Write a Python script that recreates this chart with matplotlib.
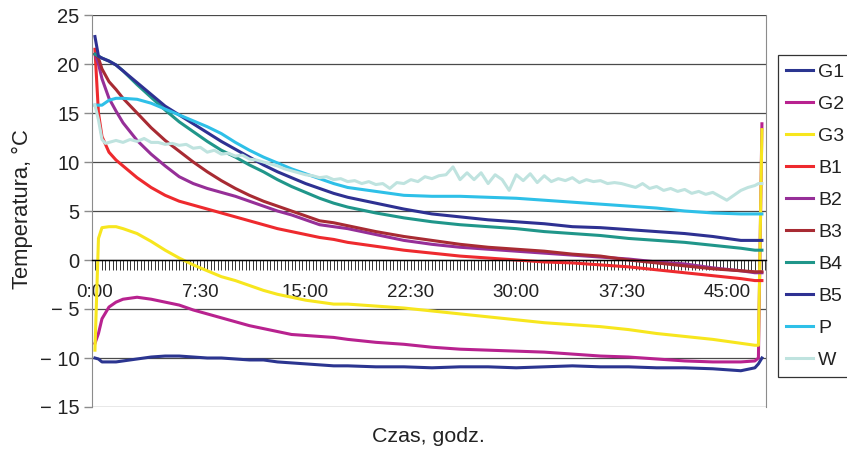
import matplotlib
matplotlib.use("Agg")
import matplotlib.pyplot as plt
from matplotlib.ticker import MultipleLocator, FuncFormatter

plt.rcParams["font.family"] = ["Liberation Sans", "DejaVu Sans"]

# czas pomiaru w godzinach
czas = [0, 0.25, 0.5, 1, 1.5, 2, 3, 4, 5, 6, 7, 8, 9, 10, 11, 12, 13, 14,
        15, 16, 17, 18, 20, 22, 24, 26, 28, 30, 32, 34, 36, 38, 40, 42, 44,
        46, 47, 47.25, 47.5]

G1 = [-10.0, -10.1, -10.4, -10.4, -10.4, -10.3, -10.1, -9.9, -9.8, -9.8,
      -9.9, -10.0, -10.0, -10.1, -10.2, -10.2, -10.4, -10.5, -10.6, -10.7,
      -10.8, -10.8, -10.9, -10.9, -11.0, -10.9, -10.9, -11.0, -10.9, -10.8,
      -10.9, -10.9, -11.0, -11.0, -11.1, -11.3, -11.0, -10.6, -10.0]
G2 = [-8.5, -7.5, -6.0, -4.8, -4.3, -4.0, -3.8, -4.0, -4.3, -4.6, -5.1,
      -5.5, -5.9, -6.3, -6.7, -7.0, -7.3, -7.6, -7.7, -7.8, -7.9, -8.1,
      -8.4, -8.6, -8.9, -9.1, -9.2, -9.3, -9.4, -9.6, -9.8, -9.9, -10.1,
      -10.3, -10.4, -10.4, -10.3, -10.0, 13.9]
G3 = [-9.2, 2.2, 3.3, 3.4, 3.4, 3.2, 2.7, 1.9, 1.0, 0.2, -0.5, -1.1, -1.7,
      -2.1, -2.6, -3.1, -3.5, -3.8, -4.1, -4.3, -4.5, -4.5, -4.7, -4.9,
      -5.2, -5.5, -5.8, -6.1, -6.4, -6.6, -6.8, -7.1, -7.5, -7.8, -8.1,
      -8.5, -8.7, -8.7, 13.3]
B1 = [21.5, 15.0, 12.6, 11.0, 10.2, 9.6, 8.4, 7.4, 6.6, 6.0, 5.6, 5.2, 4.8,
      4.4, 4.0, 3.6, 3.2, 2.9, 2.6, 2.3, 2.1, 1.8, 1.4, 1.0, 0.7, 0.4, 0.2,
      0.0, -0.2, -0.3, -0.5, -0.7, -1.0, -1.3, -1.6, -1.9, -2.1, -2.1, -2.1]
B2 = [21.0, 20.0, 18.5, 16.5, 15.2, 14.0, 12.2, 10.8, 9.6, 8.5, 7.8, 7.3,
      6.9, 6.5, 6.0, 5.5, 5.0, 4.6, 4.1, 3.6, 3.4, 3.2, 2.6, 2.0, 1.6, 1.3,
      1.1, 0.9, 0.7, 0.5, 0.3, 0.1, -0.2, -0.4, -0.8, -1.1, -1.3, -1.3, -1.3]
B3 = [21.0, 20.6, 19.5, 18.2, 17.4, 16.5, 15.0, 13.5, 12.2, 11.1, 10.0, 9.0,
      8.1, 7.3, 6.6, 6.0, 5.5, 5.0, 4.5, 4.0, 3.8, 3.5, 2.9, 2.4, 2.0, 1.6,
      1.3, 1.1, 0.9, 0.6, 0.4, 0.0, -0.3, -0.6, -0.9, -1.1, -1.2, -1.2, -1.2]
B4 = [21.0, 20.8, 20.6, 20.3, 19.9, 19.3, 17.9, 16.6, 15.3, 14.1, 13.1,
      12.1, 11.2, 10.5, 9.7, 9.0, 8.2, 7.5, 6.9, 6.3, 5.8, 5.4, 4.8, 4.3,
      3.9, 3.6, 3.4, 3.2, 2.9, 2.7, 2.5, 2.2, 2.0, 1.8, 1.5, 1.2, 1.0, 1.0,
      1.0]
B5 = [22.8, 20.8, 20.6, 20.3, 19.9, 19.3, 18.1, 16.9, 15.7, 14.8, 13.9,
      13.0, 12.1, 11.3, 10.5, 9.7, 9.0, 8.4, 7.8, 7.3, 6.8, 6.4, 5.8, 5.2,
      4.7, 4.4, 4.1, 3.9, 3.7, 3.4, 3.3, 3.1, 2.9, 2.7, 2.4, 2.0, 2.0, 2.0,
      2.0]
P = [15.8, 15.8, 15.8, 16.3, 16.5, 16.5, 16.4, 16.0, 15.4, 14.8, 14.2,
     13.6, 12.9, 12.0, 11.2, 10.5, 9.9, 9.3, 8.8, 8.3, 7.8, 7.4, 7.0, 6.6,
     6.5, 6.5, 6.4, 6.3, 6.1, 5.9, 5.7, 5.5, 5.3, 5.0, 4.8, 4.7, 4.7, 4.7,
     4.7]

# W ma wiecej punktow (wahania)
czas_w = [0, 0.25, 0.5, 0.75, 1, 1.5, 2, 2.5, 3, 3.5, 4, 4.5, 5, 5.5, 6,
          6.5, 7, 7.5, 8, 8.5, 9, 9.5, 10, 10.5, 11, 11.5, 12, 12.5, 13,
          13.5, 14, 14.5, 15, 15.5, 16, 16.5, 17, 17.5, 18, 18.5, 19, 19.5,
          20, 20.5, 21, 21.5, 22, 22.5, 23, 23.5, 24, 24.5, 25, 25.5, 26,
          26.5, 27, 27.5, 28, 28.5, 29, 29.5, 30, 30.5, 31, 31.5, 32, 32.5,
          33, 33.5, 34, 34.5, 35, 35.5, 36, 36.5, 37, 37.5, 38, 38.5, 39,
          39.5, 40, 40.5, 41, 41.5, 42, 42.5, 43, 43.5, 44, 44.5, 45, 45.5,
          46, 46.5, 47, 47.25, 47.5]
W = [15.8, 14.3, 12.3, 11.9, 12.0, 12.2, 12.0, 12.3, 12.1, 12.4, 12.0, 12.0,
     11.8, 11.9, 11.7, 11.8, 11.4, 11.5, 11.0, 11.2, 10.8, 10.9, 10.6, 10.7,
     10.3, 10.2, 10.0, 9.8, 9.6, 9.3, 9.1, 8.9, 8.7, 8.6, 8.4, 8.5, 8.2,
     8.3, 8.0, 8.1, 7.8, 8.0, 7.7, 7.8, 7.3, 7.9, 7.8, 8.2, 8.0, 8.5, 8.3,
     8.6, 8.7, 9.5, 8.2, 8.9, 8.2, 8.9, 7.8, 8.7, 8.2, 7.1, 8.7, 8.1, 8.8,
     7.9, 8.6, 8.0, 8.3, 8.1, 8.4, 7.9, 8.2, 8.0, 8.1, 7.8, 7.9, 7.8, 7.6,
     7.4, 7.8, 7.3, 7.5, 7.1, 7.3, 7.0, 7.2, 6.8, 7.0, 6.7, 6.9, 6.5, 6.1,
     6.6, 7.1, 7.4, 7.6, 7.8, 7.8]

nazwy = ["G1", "G2", "G3", "B1", "B2", "B3", "B4", "B5", "P", "W"]
kolory = ["#2b3590", "#b8228f", "#f7e61e", "#ee2a2e", "#962f98",
          "#a82b33", "#20968a", "#2e3192", "#2ec0e8", "#bfe3df"]
serie = [G1, G2, G3, B1, B2, B3, B4, B5, P, W]

fig = plt.figure(figsize=(8.47, 4.5), dpi=100)
ax = fig.add_axes([92 / 847, 43 / 450, 674 / 847, 392 / 450])

for nazwa, kolor, y in zip(nazwy, kolory, serie):
    x = czas_w if nazwa == "W" else czas
    ax.plot(x, y, color=kolor, linewidth=2.2, label=nazwa,
            solid_joinstyle="round")

ax.set_xlim(-0.21, 47.79)
ax.set_ylim(-15, 25)

ax.yaxis.set_major_locator(MultipleLocator(5))
ax.yaxis.set_major_formatter(
    FuncFormatter(lambda v, pos: f"\u2212 {abs(int(v))}" if v < 0 else f"{int(v)}")
)
ax.yaxis.grid(True, color="#4a4a4a", linewidth=0.9)
ax.set_axisbelow(True)

ax.xaxis.set_major_locator(MultipleLocator(7.5))
ax.xaxis.set_minor_locator(MultipleLocator(0.25))
ax.xaxis.set_major_formatter(
    FuncFormatter(lambda v, pos: f"{int(v)}:{int(round((v % 1) * 60)):02d}")
)

ax.spines["bottom"].set_position(("data", 0))
ax.spines["bottom"].set_color("black")
ax.spines["bottom"].set_linewidth(1.0)
ax.spines["top"].set_visible(False)
ax.spines["left"].set_color("#8c8c8c")
ax.spines["right"].set_color("#8c8c8c")

ax.tick_params(axis="x", which="both", direction="out", length=7,
               width=0.7, color="#333333")
ax.tick_params(axis="x", which="major", pad=10, labelsize=13.5,
               labelcolor="#222222")
ax.tick_params(axis="y", direction="out", length=6, width=1,
               color="#8c8c8c", labelsize=14.5, labelcolor="#222222", pad=3)

fig.text(22 / 847, 1 - 209 / 450, "Temperatura, °C", rotation=90,
         ha="center", va="center", fontsize=15.8, color="#222222")
fig.text(428 / 847, 1 - 437 / 450, "Czas, godz.", ha="center",
         va="center", fontsize=15.4, color="#222222")

leg = ax.legend(loc="upper left", bbox_to_anchor=(778 / 847, 1 - 55 / 450),
                bbox_transform=fig.transFigure, borderaxespad=0,
                fontsize=14, handlelength=1.4, handletextpad=0.25,
                labelspacing=0.74, borderpad=0.42, fancybox=False,
                framealpha=1)
leg.get_frame().set_edgecolor("#333333")
leg.get_frame().set_linewidth(0.9)
for t in leg.get_texts():
    t.set_color("#222222")

fig.savefig("out.png", dpi=100)
